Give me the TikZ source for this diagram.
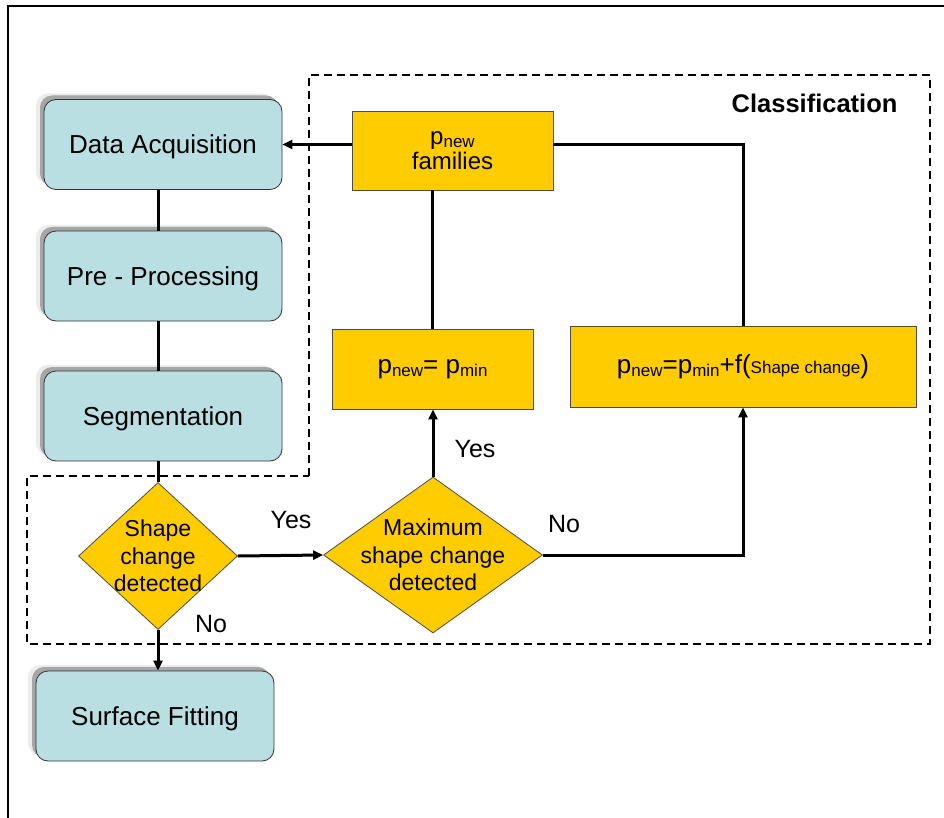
\documentclass[tikz,border=0pt]{standalone}
\usepackage{fontspec}
\setmainfont{Liberation Sans}
\usetikzlibrary{shapes.geometric,arrows.meta,shadows}
\definecolor{boxblue}{HTML}{B9DFE3}
\definecolor{ygold}{HTML}{FFCC00}
\newcommand\fs[2]{\fontsize{#1}{#2}\selectfont}
\newcommand\sbs[1]{\raisebox{-3pt}{\fs{17}{17}#1}}
\begin{document}
\begin{tikzpicture}[x=1pt,y=-1pt,
  bluebox/.style={rectangle, rounded corners=12pt, draw=black!80, line width=0.8pt,
    fill=boxblue, minimum width=238pt, minimum height=90pt, font=\fs{26}{30},
    text depth=0pt,
    general shadow={shadow xshift=-8pt, shadow yshift=6pt, fill=gray!15},
    general shadow={shadow xshift=-4pt, shadow yshift=4pt, fill=gray!70}},
  yellowbox/.style={rectangle, draw=black!70, line width=0.8pt, fill=ygold,
    font=\fs{26}{30}, align=center, inner sep=0pt},
  decision/.style={diamond, draw=black!70, line width=0.8pt, fill=ygold, inner sep=0pt},
  dlabel/.style={font=\fs{23}{27.5}, align=center},
  conn/.style={line width=3pt},
  arr/.style={conn, -{Triangle[length=10pt,width=9pt]}},
  lbl/.style={font=\fs{25}{30}},
  region/.style={line width=1.8pt, dash pattern=on 8pt off 5pt}
]
\useasboundingbox (0,0) rectangle (944,818);
\fill[white] (0,0) rectangle (944,818);
% outer frame
\draw[line width=1.2pt] (8,818) -- (8,6) -- (944,6);
% classification region
\draw[region] (309,476) -- (309,75) -- (930,75) -- (930,644) -- (27,644) -- (27,476) -- cycle;

% process boxes
\node[bluebox] (da) at (163,144.5) {Data Acquisition};
\node[bluebox] (pp) at (163,276) {Pre - Processing};
\node[bluebox] (seg) at (163,416) {Segmentation};
\node[bluebox] (sf) at (155,716) {Surface Fitting};

% decisions
\node[decision, minimum width=159pt, minimum height=147pt,
  label={[dlabel]center:Shape\\change\\detected}] (d1) at (158,556) {};
\node[decision, minimum width=219pt, minimum height=156pt,
  label={[dlabel]center:Maximum\\shape change\\detected}] (d2) at (433,555) {};

% yellow boxes
\node[yellowbox, minimum width=201pt, minimum height=79pt, font=\fs{24}{25}] (fam) at (452.5,150.5) {p\sbs{new}\\families};
\node[yellowbox, minimum width=201pt, minimum height=80pt] (pmin) at (432.5,369) {p\sbs{new}= p\sbs{min}};
\node[yellowbox, minimum width=346pt, minimum height=81pt] (pshape) at (743,366.5) {p\sbs{new}=p\sbs{min}+f({\fs{17}{17}Shape change})};

% title
\node[font=\bfseries\fs{25.5}{30}, anchor=base east] (cls) at (901,113) {Classification};

% edge labels
\node[lbl] (yes1) at (291,520) {Yes};
\node[lbl] (no1) at (211,624) {No};
\node[lbl] (yes2) at (475,449) {Yes};
\node[lbl] (no2) at (564,524) {No};

% connectors
\draw[conn] (da.south -| d1.north) -- (pp.north -| d1.north);
\draw[conn] (pp.south -| d1.north) -- (seg.north -| d1.north);
\draw[conn] (seg.south -| d1.north) -- (d1.north);
\draw[arr] (d1.south) -- (d1.south |- sf.north);
\draw[arr] (d1.east) -- (d2.west);
\draw[arr] (d2.north) -- (d2.north |- pmin.south);
\draw[arr] (d2.east) -| (pshape.south);
\draw[conn] (pmin.north) -- (pmin.north |- fam.south);
\draw[conn] (pshape.north) |- (fam.east |- da.east);
\draw[arr] (fam.west |- da.east) -- (da.east);
\end{tikzpicture}
\end{document}
